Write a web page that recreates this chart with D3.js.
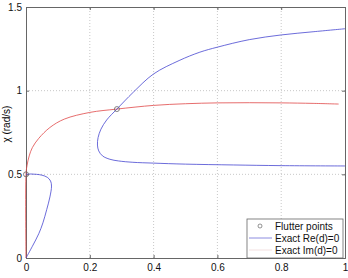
<!DOCTYPE html>
<html>
<head>
<meta charset="utf-8">
<script src="https://cdn.jsdelivr.net/npm/d3@7"></script>
<style>
body { margin: 0; background: #fff; }
svg { font-family: "Liberation Sans", Arial, sans-serif; }
</style>
</head>
<body>
<div id="chart"></div>
<script>
// data
var xTicks = [0, 0.2, 0.4, 0.6, 0.8, 1]
var yTicks = [0, 0.5, 1, 1.5]

// Im(d)=0 curve (red)
var redX = [0, 0, 0.003, 0.01, 0.02, 0.04, 0.075, 0.12, 0.2, 0.285, 0.4, 0.5, 0.6, 0.7, 0.8, 0.9, 0.98]
var redY = [0, 0.5, 0.55, 0.61, 0.66, 0.715, 0.78, 0.83, 0.87, 0.89, 0.912, 0.922, 0.927, 0.928, 0.927, 0.924, 0.92]

// Re(d)=0 curves (blue), two branches
var blue1X = [0, 0.02, 0.04, 0.053, 0.065, 0.075, 0.08, 0.077, 0.067, 0.05, 0.033, 0.015, 0]
var blue1Y = [0, 0.07, 0.145, 0.21, 0.29, 0.365, 0.43, 0.46, 0.482, 0.495, 0.5, 0.502, 0.5]
var blue2X = [1, 0.8, 0.65, 0.5, 0.4, 0.335, 0.29, 0.263, 0.24, 0.228, 0.224, 0.226, 0.235, 0.253, 0.285, 0.336, 0.4, 0.48, 0.545, 0.6, 0.7, 0.8, 0.9, 1]
var blue2Y = [0.55, 0.552, 0.556, 0.561, 0.567, 0.572, 0.58, 0.59, 0.61, 0.64, 0.675, 0.72, 0.77, 0.825, 0.89, 0.99, 1.1, 1.18, 1.23, 1.26, 1.305, 1.333, 1.352, 1.37]

// flutter points
var flutterX = [0, 0.285]
var flutterY = [0.5, 0.89]

var legendLabels = ["Flutter points", "Exact Re(d)=0", "Exact Im(d)=0"]

var width = 348
    height = 278
    margin = {left: 26, right: 3, top: 7, bottom: 20}

var svg = d3.select("#chart")
    .append("svg")
        .attr("width", width)
        .attr("height", height)

var x = d3.scaleLinear().domain([0, 1]).range([margin.left, width - margin.right])
var y = d3.scaleLinear().domain([0, 1.5]).range([height - margin.bottom, margin.top])

// grid lines (dotted)
svg.append("g").selectAll("line")
    .data(xTicks.slice(1, -1))
    .enter().append("line")
        .attr("x1", function(d){ return x(d) }).attr("x2", function(d){ return x(d) })
        .attr("y1", y(0)).attr("y2", y(1.5))
        .attr("stroke", "#b0b0b0").attr("stroke-width", 0.7).attr("stroke-dasharray", "1,2")
svg.append("g").selectAll("line")
    .data(yTicks.slice(1, -1))
    .enter().append("line")
        .attr("y1", function(d){ return y(d) }).attr("y2", function(d){ return y(d) })
        .attr("x1", x(0)).attr("x2", x(1))
        .attr("stroke", "#b0b0b0").attr("stroke-width", 0.7).attr("stroke-dasharray", "1,2")

// axes
var xAxis = svg.append("g")
    .attr("transform", "translate(0," + y(0) + ")")
    .call(d3.axisBottom(x).tickValues(xTicks).tickSize(-3).tickPadding(6).tickFormat(d3.format("")))
var yAxis = svg.append("g")
    .attr("transform", "translate(" + x(0) + ",0)")
    .call(d3.axisLeft(y).tickValues(yTicks).tickSize(-3).tickPadding(4).tickFormat(d3.format("")))
svg.append("g")
    .attr("transform", "translate(0," + y(1.5) + ")")
    .call(d3.axisTop(x).tickValues(xTicks).tickSize(-3).tickFormat(""))
svg.append("g")
    .attr("transform", "translate(" + x(1) + ",0)")
    .call(d3.axisRight(y).tickValues(yTicks).tickSize(-3).tickFormat(""))

svg.selectAll(".domain").attr("stroke", "#666")
svg.selectAll(".tick line").attr("stroke", "#666")
svg.selectAll(".tick text").attr("font-size", 10).attr("fill", "#111").attr("font-family", "Liberation Sans, Arial, sans-serif")

// axis labels
svg.append("text")
    .attr("x", x(0.5)).attr("y", height + 6)
    .attr("text-anchor", "middle")
    .attr("font-size", 11)
    .text("μ")
svg.append("text")
    .attr("transform", "translate(10," + y(0.8) + ") rotate(-90)")
    .attr("text-anchor", "middle")
    .attr("font-size", 10)
    .text("χ (rad/s)")

function zipPts(xs, ys) {
    return xs.map(function(d, i){ return [d, ys[i]] })
}

var line = d3.line()
    .x(function(d){ return x(d[0]) })
    .y(function(d){ return y(d[1]) })
    .curve(d3.curveCatmullRom.alpha(0.5))

svg.append("path")
    .attr("d", line(zipPts(redX, redY)))
    .attr("fill", "none").attr("stroke", "#e04848").attr("stroke-width", 0.8)
svg.append("path")
    .attr("d", line(zipPts(blue1X, blue1Y)))
    .attr("fill", "none").attr("stroke", "#4646d0").attr("stroke-width", 0.8)
svg.append("path")
    .attr("d", line(zipPts(blue2X, blue2Y)))
    .attr("fill", "none").attr("stroke", "#4646d0").attr("stroke-width", 0.8)

svg.selectAll(".flutter")
    .data(zipPts(flutterX, flutterY))
    .enter().append("circle")
        .attr("cx", function(d){ return x(d[0]) })
        .attr("cy", function(d){ return y(d[1]) })
        .attr("r", 2.5)
        .attr("fill", "none").attr("stroke", "#666").attr("stroke-width", 0.8)

// legend
var lg = svg.append("g").attr("transform", "translate(247,219)")
lg.append("rect")
    .attr("width", 96).attr("height", 39)
    .attr("fill", "#fff").attr("stroke", "#666").attr("stroke-width", 0.8)
lg.append("circle").attr("cx", 13).attr("cy", 7).attr("r", 2)
    .attr("fill", "none").attr("stroke", "#666").attr("stroke-width", 0.7)
lg.append("line").attr("x1", 2).attr("x2", 25).attr("y1", 19).attr("y2", 19)
    .attr("stroke", "#7070d8").attr("stroke-width", 0.8)
lg.append("line").attr("x1", 2).attr("x2", 25).attr("y1", 31).attr("y2", 31)
    .attr("stroke", "#f0d8d8").attr("stroke-width", 0.8)
lg.selectAll("text.lbl")
    .data(legendLabels)
    .enter().append("text")
        .attr("x", 28)
        .attr("y", function(d, i){ return 7 + i * 12 })
        .attr("dy", "0.35em")
        .attr("font-size", 10)
        .attr("fill", "#111")
        .text(function(d){ return d })
</script>
</body>
</html>
